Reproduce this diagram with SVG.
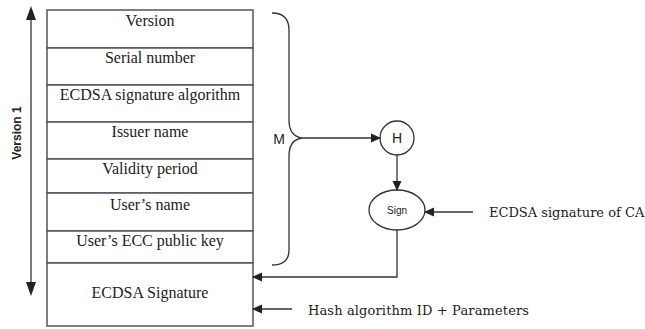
<svg xmlns="http://www.w3.org/2000/svg" width="645" height="329" viewBox="0 0 645 329">
<defs>
<marker id="ah" markerWidth="10" markerHeight="10" refX="9" refY="5" orient="auto" markerUnits="userSpaceOnUse">
<path d="M0,0.5 L10,5 L0,9.5 Z" fill="#222"/>
</marker>
</defs>
<style>
.cell{fill:#fff;stroke:#555;stroke-width:1.5}
.t{font-family:"Liberation Serif",serif;font-size:16px;fill:#222;text-anchor:middle}
.s{font-family:"Liberation Sans",sans-serif;fill:#222;text-anchor:middle}
.ln{fill:none;stroke:#333;stroke-width:1.3}
.lbl{font-family:"DejaVu Serif",serif;font-size:13px;fill:#222}
</style>
<rect width="645" height="329" fill="#fff"/>
<g id="table">
<rect class="cell" x="47" y="10" width="206" height="38"/>
<rect class="cell" x="47" y="48" width="206" height="37"/>
<rect class="cell" x="47" y="85" width="206" height="37"/>
<rect class="cell" x="47" y="122" width="206" height="37"/>
<rect class="cell" x="47" y="159" width="206" height="34"/>
<rect class="cell" x="47" y="193" width="206" height="38"/>
<rect class="cell" x="47" y="231" width="206" height="32"/>
<rect class="cell" x="47" y="263" width="206" height="63"/>
<text class="t" x="150" y="26">Version</text>
<text class="t" x="150" y="63">Serial number</text>
<text class="t" x="150" y="100">ECDSA signature algorithm</text>
<text class="t" x="150" y="137">Issuer name</text>
<text class="t" x="150" y="174">Validity period</text>
<text class="t" x="150" y="210">User’s name</text>
<text class="t" x="150" y="246">User’s ECC public key</text>
<text class="t" x="150" y="298">ECDSA Signature</text>
</g>
<g id="version1">
<text class="s" font-weight="bold" font-size="12" transform="translate(21,133) rotate(-90)">Version 1</text>
</g>
<g id="brace">
<path class="ln" d="M272,13 Q289,13 289,30 L289,120 Q289,136 302,138 Q289,140 289,156 L289,250 Q289,265 272,265"/>
<text class="s" font-size="14" x="279" y="144">M</text>
</g>
<g id="H">
<circle cx="397" cy="138" r="17" fill="#fff" stroke="#333" stroke-width="1.3"/>
<text class="s" font-size="14" x="397" y="143">H</text>
</g>
<g id="Sign">
<ellipse cx="397" cy="210" rx="28" ry="20" fill="#fff" stroke="#333" stroke-width="1.3"/>
<text class="s" font-size="10" x="397" y="214">Sign</text>
</g>
<g id="labels">
<text class="lbl" x="489" y="217">ECDSA signature of CA</text>
<text class="lbl" x="308" y="315" textLength="221">Hash algorithm ID + Parameters</text>
</g>
<g id="connectors">
<line class="ln" x1="31" y1="20" x2="31" y2="284"/>
<path d="M31,6 L26,20 L36,20 Z" fill="#222"/>
<path d="M31,296 L26,282 L36,282 Z" fill="#222"/>
<line class="ln" x1="302" y1="138" x2="380" y2="138" marker-end="url(#ah)"/>
<line class="ln" x1="397" y1="155" x2="397" y2="190" marker-end="url(#ah)"/>
<line class="ln" x1="473" y1="212" x2="425" y2="212" marker-end="url(#ah)"/>
<path class="ln" d="M397,230 L397,277 L253,277" marker-end="url(#ah)"/>
<line class="ln" x1="292" y1="309" x2="253" y2="309" marker-end="url(#ah)"/>
</g>
</svg>
